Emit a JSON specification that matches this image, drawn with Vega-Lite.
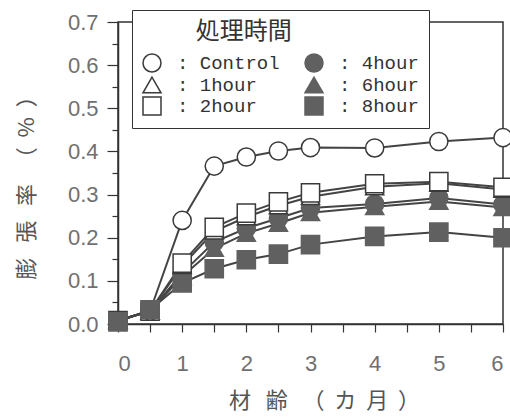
{
  "$schema": "https://vega.github.io/schema/vega-lite/v6.json",
  "width": 385,
  "height": 302,
  "autosize": {"type": "none"},
  "padding": {"left": 118, "top": 22, "right": 7, "bottom": 94},
  "background": "white",
  "config": {
    "view": {"stroke": "#333", "strokeWidth": 1.5},
    "axis": {"grid": false, "domainColor": "#333", "domainWidth": 1.5, "tickColor": "#333", "tickWidth": 1.2}
  },
  "data": {
    "values": [
      {"m": 1, "s": "8hour", "v": 0.095}, {"m": 1.5, "s": "8hour", "v": 0.128}, {"m": 2, "s": "8hour", "v": 0.149}, {"m": 2.5, "s": "8hour", "v": 0.162}, {"m": 3, "s": "8hour", "v": 0.184}, {"m": 4, "s": "8hour", "v": 0.203}, {"m": 5, "s": "8hour", "v": 0.213}, {"m": 6, "s": "8hour", "v": 0.2},
      {"m": 0, "s": "6hour", "v": 0.008}, {"m": 0.5, "s": "6hour", "v": 0.03}, {"m": 1, "s": "6hour", "v": 0.11}, {"m": 1.5, "s": "6hour", "v": 0.175}, {"m": 2, "s": "6hour", "v": 0.21}, {"m": 2.5, "s": "6hour", "v": 0.233}, {"m": 3, "s": "6hour", "v": 0.258}, {"m": 4, "s": "6hour", "v": 0.272}, {"m": 5, "s": "6hour", "v": 0.284}, {"m": 6, "s": "6hour", "v": 0.27},
      {"m": 0, "s": "4hour", "v": 0.008}, {"m": 0.5, "s": "4hour", "v": 0.03}, {"m": 1, "s": "4hour", "v": 0.118}, {"m": 1.5, "s": "4hour", "v": 0.19}, {"m": 2, "s": "4hour", "v": 0.222}, {"m": 2.5, "s": "4hour", "v": 0.245}, {"m": 3, "s": "4hour", "v": 0.269}, {"m": 4, "s": "4hour", "v": 0.278}, {"m": 5, "s": "4hour", "v": 0.292}, {"m": 6, "s": "4hour", "v": 0.277},
      {"m": 0, "s": "1hour", "v": 0.008}, {"m": 0.5, "s": "1hour", "v": 0.03}, {"m": 1, "s": "1hour", "v": 0.135}, {"m": 1.5, "s": "1hour", "v": 0.215}, {"m": 2, "s": "1hour", "v": 0.248}, {"m": 2.5, "s": "1hour", "v": 0.274}, {"m": 3, "s": "1hour", "v": 0.295}, {"m": 4, "s": "1hour", "v": 0.318}, {"m": 5, "s": "1hour", "v": 0.326}, {"m": 6, "s": "1hour", "v": 0.312},
      {"m": 0, "s": "2hour", "v": 0.008}, {"m": 0.5, "s": "2hour", "v": 0.03}, {"m": 1, "s": "2hour", "v": 0.141}, {"m": 1.5, "s": "2hour", "v": 0.224}, {"m": 2, "s": "2hour", "v": 0.257}, {"m": 2.5, "s": "2hour", "v": 0.283}, {"m": 3, "s": "2hour", "v": 0.304}, {"m": 4, "s": "2hour", "v": 0.325}, {"m": 5, "s": "2hour", "v": 0.33}, {"m": 6, "s": "2hour", "v": 0.317},
      {"m": 0, "s": "Control", "v": 0.008}, {"m": 0.5, "s": "Control", "v": 0.03}, {"m": 1, "s": "Control", "v": 0.24}, {"m": 1.5, "s": "Control", "v": 0.366}, {"m": 2, "s": "Control", "v": 0.387}, {"m": 2.5, "s": "Control", "v": 0.401}, {"m": 3, "s": "Control", "v": 0.409}, {"m": 4, "s": "Control", "v": 0.408}, {"m": 5, "s": "Control", "v": 0.423}, {"m": 6, "s": "Control", "v": 0.432},
      {"m": 0, "s": "8hour", "v": 0.005}, {"m": 0.5, "s": "8hour", "v": 0.033}
    ]
  },
  "encoding": {
    "x": {
      "field": "m", "type": "quantitative",
      "scale": {"domain": [0, 6], "nice": false, "zero": false},
      "axis": {
        "values": [0, 0.5, 1, 1.5, 2, 2.5, 3, 3.5, 4, 4.5, 5, 5.5, 6],
        "labelExpr": "datum.value % 1 == 0 ? format(datum.value, 'd') : ''",
        "tickSize": 8,
        "labelPadding": 21,
        "labelFont": "Liberation Sans", "labelFontSize": 22, "labelColor": "#707070",
        "title": "材\u00a0\u00a0\u00a0齢\u00a0\u00a0\u00a0（\u00a0\u00a0カ\u00a0\u00a0月\u00a0\u00a0）",
        "titleFont": "Noto Sans CJK JP", "titleFontSize": 22, "titleFontWeight": "normal", "titleColor": "#555",
        "titleX": 206, "titleY": 76, "titleBaseline": "middle", "titleAlign": "center"
      }
    },
    "y": {
      "field": "v", "type": "quantitative",
      "scale": {"domain": [0, 0.7], "nice": false},
      "axis": {
        "values": [0, 0.05, 0.1, 0.15, 0.2, 0.25, 0.3, 0.35, 0.4, 0.45, 0.5, 0.55, 0.6, 0.65, 0.7],
        "labelExpr": "round(datum.value * 100) % 10 == 0 ? format(datum.value, '.1f') : ''",
        "tickSize": {"condition": {"test": "round(datum.value * 100) % 10 == 0", "value": 11}, "value": 6},
        "labelPadding": 9,
        "labelFont": "Liberation Sans", "labelFontSize": 22, "labelColor": "#707070",
        "title": "膨\u00a0\u00a0\u00a0張\u00a0\u00a0\u00a0率\u00a0\u00a0\u00a0（\u00a0\u00a0%\u00a0\u00a0）",
        "titleFont": "Noto Sans CJK JP", "titleFontSize": 22, "titleFontWeight": "normal", "titleColor": "#555",
        "titleX": -92, "titleY": 160, "titleAngle": -90, "titleBaseline": "middle", "titleAlign": "center"
      }
    }
  },
  "layer": [
    {
      "mark": {"type": "line", "color": "#444", "strokeWidth": 2},
      "encoding": {"detail": {"field": "s"}}
    },
    {
      "mark": {"type": "point", "filled": true, "opacity": 1, "size": 330, "strokeWidth": 1.5},
      "encoding": {
        "shape": {
          "field": "s", "type": "nominal",
          "scale": {"domain": ["Control", "1hour", "2hour", "4hour", "6hour", "8hour"], "range": ["circle", "triangle-up", "square", "circle", "triangle-up", "square"]},
          "legend": {
            "title": "\u200b\u00a0\u00a0\u00a0\u00a0\u00a0\u00a0\u00a0\u00a0\u00a0\u00a0処理時間",
            "orient": "none", "legendX": 14, "legendY": -12,
            "columns": 2, "columnPadding": 22, "rowPadding": -3,
            "padding": 10, "strokeColor": "#333", "fillColor": "white",
            "titleFont": "Noto Sans CJK JP", "titleFontSize": 24, "titleFontWeight": "normal", "titleColor": "#333", "titlePadding": 9,
            "labelFont": "Liberation Mono", "labelFontSize": 19, "labelColor": "#333", "labelOffset": 15,
            "labelExpr": "': ' + datum.label",
            "symbolSize": 324, "symbolStrokeWidth": 1.5
          }
        },
        "fill": {
          "field": "s", "type": "nominal",
          "scale": {"domain": ["Control", "1hour", "2hour", "4hour", "6hour", "8hour"], "range": ["white", "white", "white", "#606060", "#606060", "#606060"]}
        },
        "stroke": {
          "field": "s", "type": "nominal",
          "scale": {"domain": ["Control", "1hour", "2hour", "4hour", "6hour", "8hour"], "range": ["#3a3a3a", "#3a3a3a", "#3a3a3a", "#606060", "#606060", "#606060"]}
        }
      }
    }
  ]
}
